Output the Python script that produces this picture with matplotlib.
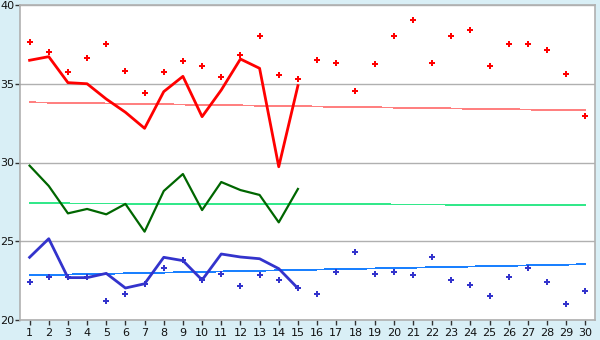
import numpy as np
from matplotlib import pyplot as plt

days = np.arange(1, 31)

# red series: daily markers, line for first 15 days, trend end points
red_pts = [37.63, 37.0, 35.73, 36.61, 37.5, 35.79, 34.39, 35.73, 36.42, 36.1,
           35.41, 36.8, 38.01, 35.53, 35.28, 36.49, 36.3, 34.52, 36.23, 38.01,
           39.03, 36.3, 38.01, 38.39, 36.1, 37.5, 37.5, 37.12, 35.6, 32.93]
red_line = [36.49, 36.72, 35.07, 35.0, 34.03, 33.19, 32.17, 34.5, 35.47, 32.91,
            34.6, 36.57, 35.98, 29.73, 34.88]
red_trend = [33.82, 33.31]

green_line = [29.8, 28.51, 26.77, 27.05, 26.71, 27.37, 25.61, 28.19, 29.27, 26.98,
              28.76, 28.25, 27.94, 26.2, 28.32]
green_trend = [27.41, 27.3]

blue_pts = [22.39, 22.71, 22.7, 22.7, 21.19, 21.63, 22.3, 23.28, 23.8, 22.54,
            22.9, 22.14, 22.84, 22.52, 22.01, 21.63, 23.03, 24.3, 22.9, 23.03,
            22.84, 23.98, 22.52, 22.2, 21.5, 22.71, 23.28, 22.39, 21.0, 21.82]
blue_line = [23.98, 25.16, 22.69, 22.69, 22.96, 22.03, 22.3, 23.98, 23.77, 22.54,
             24.19, 24.0, 23.89, 23.26, 22.01]
blue_trend = [22.84, 23.54]

bg = '#d9eff6'
fig = plt.figure(figsize=(6, 3.4), dpi=100, facecolor=bg)
ax = fig.add_axes([20/600, 20/340, 575/600, 315/340])
ax.set_facecolor('white')

ends = [days[0], days[-1]]
ax.plot(ends, red_trend, color='#ff8080', lw=0.6, antialiased=False, zorder=2)
ax.plot(ends, green_trend, color='#33e88a', lw=0.6, antialiased=False, zorder=2)
ax.plot(ends, blue_trend, color='#1a80ff', lw=0.6, antialiased=False, zorder=2)

n = len(red_line)
ax.plot(days[:n], red_line, color='#ff0000', lw=2, zorder=3)
ax.plot(days[:n], green_line, color='#006600', lw=1.6, zorder=3)
ax.plot(days[:n], blue_line, color='#3333cc', lw=2, zorder=3)

ax.plot(days, red_pts, ls='none', marker='P', ms=5, color='#ff0000',
        mew=0, zorder=4)
ax.plot(days, blue_pts, ls='none', marker='P', ms=5, color='#3333cc',
        mew=0, zorder=4)

ax.set_xlim(0.5, 30.5)
ax.set_ylim(20, 40)
ax.set_xticks(days)
ax.set_yticks([20, 25, 30, 35, 40])
ax.yaxis.grid(True, color='#b0b0b0', lw=1)
ax.set_axisbelow(True)
for s in ax.spines.values():
    s.set_color('#b0b0b0')
    s.set_linewidth(1.2)
ax.tick_params(axis='both', direction='out', length=3.5, width=1,
               color='#333333', labelsize=8, labelcolor='#111111')
ax.tick_params(axis='y', pad=0.5)
ax.tick_params(axis='x', pad=2)

plt.savefig('out.png', dpi=100, facecolor=bg)
